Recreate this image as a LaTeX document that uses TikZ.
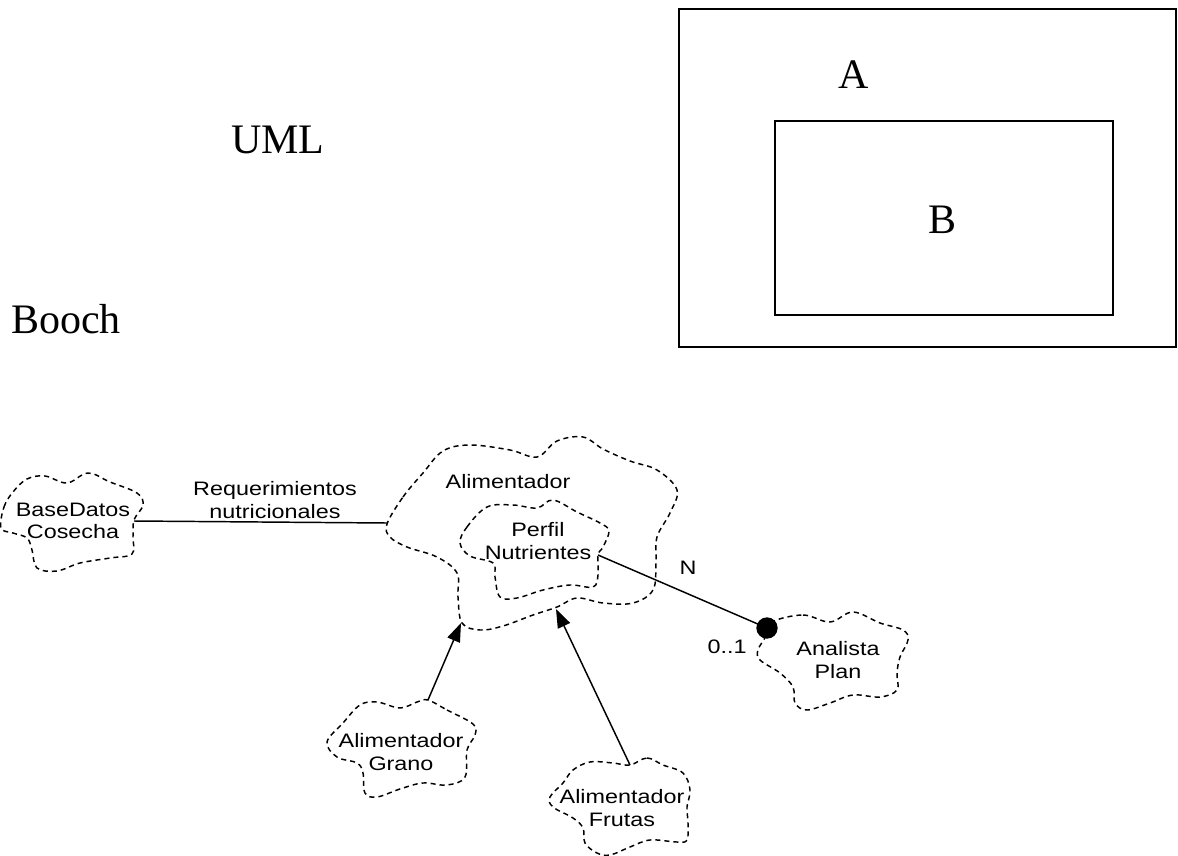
\documentclass[tikz,border=0pt]{standalone}
\usepackage{fontspec}
\usetikzlibrary{arrows.meta}
\newfontfamily\titlefont{Liberation Serif}
\newfontfamily\cloudfont[FakeStretch=1.2]{Liberation Sans}

\begin{document}
\begin{tikzpicture}[x=0.75pt, y=-0.75pt,
    title/.style={font=\titlefont\fontsize{31.5}{36}\selectfont, inner sep=0pt, anchor=base},
    lbl/.style={font=\cloudfont\fontsize{14.6}{17}\selectfont, align=center, inner sep=0pt},
    cloud/.style={line width=1.1pt, dash pattern=on 3.8pt off 3pt, line join=round},
    link/.style={line width=1.1pt},
    gen/.style={link, -{Triangle[length=14pt, width=10pt]}}]
    \useasboundingbox (0,0) rectangle (1178,856);

    % Titles
    \node[title] (uml) at (278,153) {UML};
    \node[title, anchor=base west] (booch) at (11,333) {Booch};

    % Nested boxes
    \draw[line width=1.1pt] (679,9) rectangle (1176,347);
    \draw[line width=1.1pt] (775,121) rectangle (1113,315);
    \node[title] (a) at (854,89) {A};
    \node[title] (b) at (942,233) {B};

    % Class clouds
    \draw[cloud] plot[smooth cycle, tension=0.6] coordinates {(1,528) (4,507) (13,492) (27,479) (45,476) (67,483) (88,473) (110,482) (137,493) (143,505) (134,520) (133,537) (132,554) (110,558) (80,563) (57,571) (37,568) (32,550) (27,538) (13,533)};
    \draw[cloud] plot[smooth cycle, tension=0.6] coordinates {(387,524) (403,497) (423,473) (443,451) (470,445) (510,450) (537,457) (557,441) (583,437) (603,449) (630,461) (657,470) (677,490) (670,513) (657,537) (656,563) (653,590) (633,603) (603,603) (577,598) (557,607) (533,615) (503,626) (480,630) (462,623) (458,597) (457,573) (437,557) (407,547) (390,537)};
    \draw[cloud] plot[smooth cycle, tension=0.6] coordinates {(460,543) (467,527) (487,507) (513,505) (537,508) (553,500) (577,512) (600,523) (609,531) (603,547) (598,555) (598,575) (593,587) (570,585) (543,590) (517,598) (500,597) (495,577) (493,563) (470,556)};
    \draw[cloud] plot[smooth cycle, tension=0.6] coordinates {(772,622) (803,615) (830,622) (853,612) (880,623) (903,630) (908,640) (900,657) (897,673) (897,690) (880,697) (853,695) (830,703) (807,710) (795,703) (793,687) (780,673) (760,660) (758,650) (766,636)};
    \draw[cloud] plot[smooth cycle, tension=0.6] coordinates {(428,700) (447,710) (473,724) (475,735) (467,750) (465,777) (447,785) (423,783) (400,789) (377,797) (365,793) (363,773) (357,763) (337,757) (327,742) (343,723) (360,705) (377,702) (400,708) (417,702)};
    \draw[cloud] plot[smooth cycle, tension=0.6] coordinates {(630,765) (647,758) (663,765) (683,773) (690,790) (687,807) (688,823) (687,840) (677,842) (650,840) (630,847) (610,855) (597,853) (585,843) (583,828) (573,818) (553,807) (550,797) (563,783) (573,770) (590,762) (613,763)};

    % Class names
    \node[lbl] (cosecha) at (73,521) {BaseDatos\\Cosecha};
    \node[lbl] (alim) at (508,482) {Alimentador};
    \node[lbl] (perfil) at (538,541) {Perfil\\Nutrientes};
    \node[lbl] (analista) at (838,660) {Analista\\Plan};
    \node[lbl] (grano) at (401,752) {Alimentador\\Grano};
    \node[lbl] (frutas) at (622,808) {Alimentador\\Frutas};

    % Ends of the relations
    \coordinate (cosechaE) at (134,521);
    \coordinate (alimW) at (387,523);
    \coordinate (perfilE) at (598,555);
    \coordinate (dot) at (767,628);
    \coordinate (alimL) at (461,623);
    \coordinate (alimR) at (556,609);
    \coordinate (granoN) at (428,700);
    \coordinate (frutasN) at (630,765);

    % Relations
    \draw[link] (cosechaE) -- (alimW);
    \node[lbl] (req) at (275,500) {Requerimientos\\nutricionales};
    \draw[link] (perfilE) -- (dot);
    \fill (dot) circle[radius=8pt];
    \node[lbl] (n) at (688,568) {N};
    \node[lbl] (card) at (727,647) {0..1};
    \draw[gen] (granoN) -- (alimL);
    \draw[gen] (frutasN) -- (alimR);
\end{tikzpicture}
\end{document}
